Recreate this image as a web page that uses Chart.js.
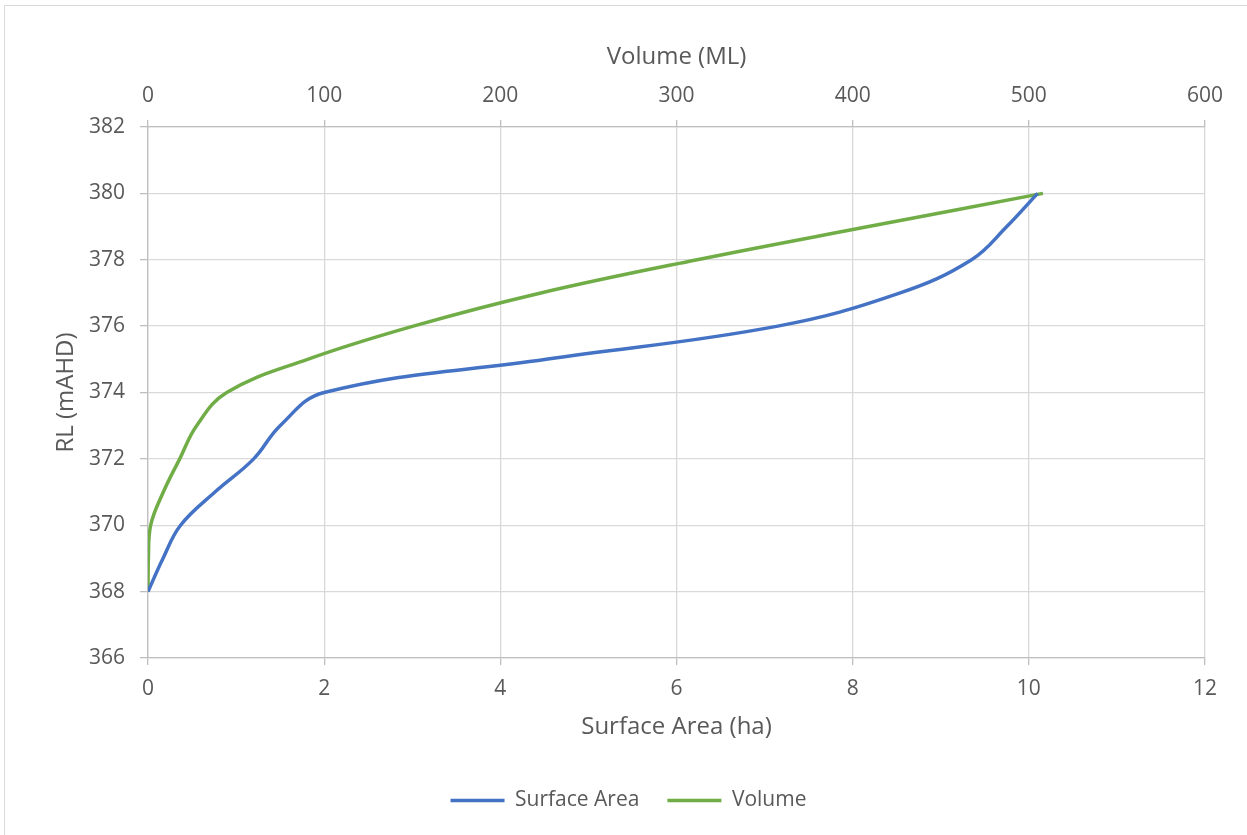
<!DOCTYPE html>
<html>
<head>
<meta charset="utf-8">
<script src="https://cdn.jsdelivr.net/npm/chart.js@4"></script>
<style>
  html, body { margin: 0; padding: 0; background: #fff; overflow: hidden; }
  #frame { position: absolute; left: 4px; top: 5px; width: 1300px; height: 900px; border: 1px solid #d9d9d9; }
  #chartContainer { position: absolute; left: 0; top: 0; width: 1247px; height: 835px; }
</style>
</head>
<body>
<div id="frame"></div>
<div id="chartContainer"><canvas id="storageChart"></canvas></div>
<script>
// reduced level (mAHD) at each reading
const rlLevels = [368, 369, 370, 371, 372, 373, 374, 375, 376, 377, 378, 379, 380];
// surface area (ha) at each level
const surfaceArea = [0, 0.17, 0.37, 0.76, 1.2, 1.5, 2.0, 4.52, 7.15, 8.54, 9.35, 9.75, 10.1];
// stored volume (ML) at each level
const volume = [0, 0.2, 1.5, 8.7, 18, 27.6, 44.7, 90.6, 150.6, 223, 311.7, 409, 508];

const areaTicks = [0, 2, 4, 6, 8, 10, 12];
const volumeTicks = [0, 100, 200, 300, 400, 500, 600];
const rlTicks = [366, 368, 370, 372, 374, 376, 378, 380, 382];

const textColor = "#595959";
const tickFont = { family: "'Open Sans', sans-serif", size: 21 };
const titleFont = { family: "'Open Sans', sans-serif", size: 24 };

const toPoints = (xs) => xs.map((x, i) => ({ x: x, y: rlLevels[i] }));

const ctx = document.getElementById("storageChart").getContext("2d");

const config = {
  type: "scatter",
  data: {
    datasets: [
      {
        label: "Surface Area",
        data: toPoints(surfaceArea),
        borderColor: "#4472C4",
        backgroundColor: "#4472C4",
        borderWidth: 3.5,
        showLine: true,
        tension: 0.4,
        pointRadius: 0,
        xAxisID: "x",
        yAxisID: "y",
      },
      {
        label: "Volume",
        data: toPoints(volume),
        borderColor: "#70AD47",
        backgroundColor: "#70AD47",
        borderWidth: 3.5,
        showLine: true,
        tension: 0.4,
        pointRadius: 0,
        xAxisID: "x2",
        yAxisID: "y",
      },
    ],
  },
  options: {
    responsive: true,
    maintainAspectRatio: false,
    animation: false,
    layout: {
      padding: { left: 52, right: 42, top: 20, bottom: 14 },
    },
    scales: {
      x: {
        type: "linear",
        position: "bottom",
        min: 0,
        max: 12,
        afterBuildTicks: (scale) => {
          scale.ticks = areaTicks.map((v) => ({ value: v }));
        },
        afterFit: (scale) => {
          scale.height = 104;
        },
        grid: { color: "#d9d9d9", lineWidth: 1.3, tickLength: 7, tickColor: "#bfbfbf" },
        border: { color: "#bfbfbf", width: 1.3 },
        ticks: { color: textColor, font: tickFont, padding: 11, maxRotation: 0 },
        title: {
          display: true,
          text: "Surface Area (ha)",
          color: textColor,
          font: titleFont,
          padding: { top: 0, bottom: 20 },
        },
      },
      x2: {
        type: "linear",
        position: "top",
        min: 0,
        max: 600,
        afterBuildTicks: (scale) => {
          scale.ticks = volumeTicks.map((v) => ({ value: v }));
        },
        afterFit: (scale) => {
          scale.height = 107;
        },
        grid: { drawOnChartArea: false, color: "#bfbfbf", lineWidth: 1.3, tickLength: 7 },
        border: { color: "#bfbfbf", width: 1.3 },
        ticks: { color: textColor, font: tickFont, padding: 11, maxRotation: 0 },
        title: {
          display: true,
          text: "Volume (ML)",
          color: textColor,
          font: titleFont,
          padding: { top: 23, bottom: 0 },
        },
      },
      y: {
        type: "linear",
        min: 366,
        max: 382,
        afterBuildTicks: (scale) => {
          scale.ticks = rlTicks.map((v) => ({ value: v }));
        },
        afterFit: (scale) => {
          scale.width = 96;
        },
        grid: { color: "#d9d9d9", lineWidth: 1.3, tickLength: 8, tickColor: "#bfbfbf" },
        border: { color: "#bfbfbf", width: 1.3 },
        ticks: { color: textColor, font: tickFont, padding: 15 },
        title: {
          display: true,
          text: "RL (mAHD)",
          color: textColor,
          font: titleFont,
          padding: { top: 0, bottom: 0 },
        },
      },
    },
    plugins: {
      legend: {
        display: true,
        position: "bottom",
        labels: {
          color: textColor,
          font: tickFont,
          usePointStyle: true,
          pointStyle: "line",
          pointStyleWidth: 54,
          padding: 28,
        },
      },
      tooltip: { enabled: false },
    },
  },
};

const storageChart = new Chart(ctx, config);
</script>
</body>
</html>
